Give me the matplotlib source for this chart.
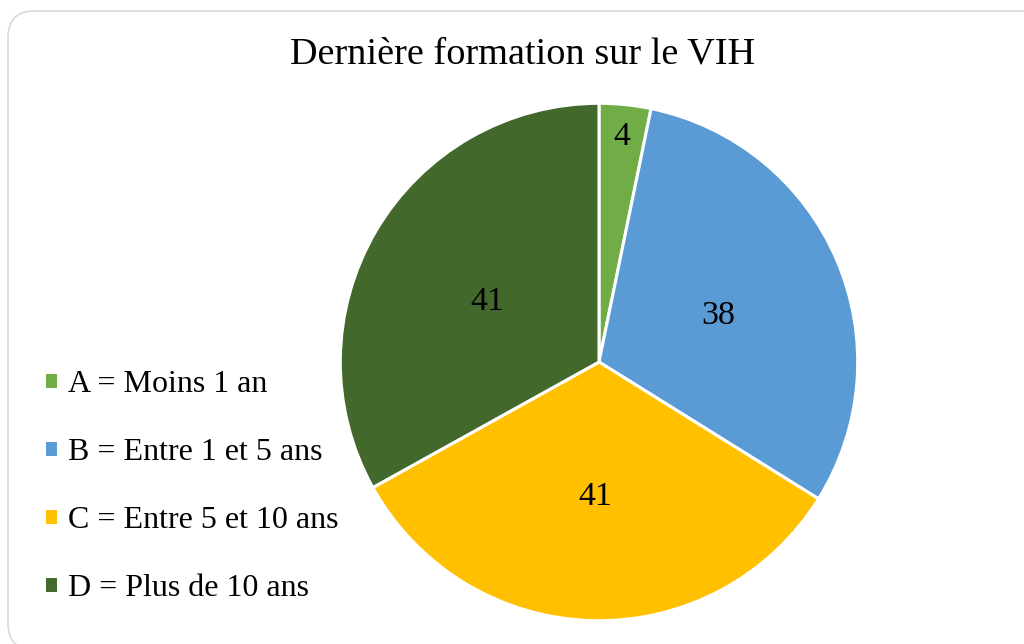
import numpy as np
import matplotlib.pyplot as plt
from matplotlib.patches import FancyBboxPatch
from matplotlib.transforms import offset_copy

categories = ['A = Moins 1 an', 'B = Entre 1 et 5 ans', 'C = Entre 5 et 10 ans', 'D = Plus de 10 ans']
values = [4, 38, 41, 41]
colors = ['#70AD47', '#5B9BD5', '#FFC000', '#43682B']

plt.rcParams['font.family'] = ['Liberation Serif', 'DejaVu Serif']

fig = plt.figure(figsize=(10.24, 6.44), dpi=100)

# rounded chart border (runs off the right edge)
border = FancyBboxPatch((8 / 1024, -6 / 644), 1.2, 1 - 5 / 644,
                        boxstyle='round,pad=0,rounding_size=0.026',
                        transform=fig.transFigure, facecolor='white',
                        edgecolor='#D9D9D9', linewidth=1.2, mutation_aspect=1024 / 644, zorder=-5)
fig.patches.append(border)

ax = fig.add_axes([339 / 1024, 22 / 644, 520 / 1024, 520 / 644])
wedges, texts, autotexts = ax.pie(values, colors=colors, startangle=90, counterclock=False,
                                  autopct=lambda p: '%d' % round(p * sum(values) / 100),
                                  pctdistance=0.5,
                                  wedgeprops=dict(edgecolor='white', linewidth=2.2),
                                  textprops=dict(fontsize=24.5, color='black'))
ax.set_xlim(-1.005, 1.005)
ax.set_ylim(-1.005, 1.005)
ax.set_aspect('equal')

# small slice label sits further out
ang = np.deg2rad((wedges[0].theta1 + wedges[0].theta2) / 2)
autotexts[0].set_position((0.88 * np.cos(ang), 0.88 * np.sin(ang)))
for i, t in enumerate(autotexts):
    dy = -1 if i == 0 else -5
    t.set_transform(offset_copy(ax.transData, fig=fig, x=0, y=dy, units='dots'))

fig.text(523 / 1024, 1 - 54 / 644, 'Dernière formation sur le VIH', ha='center', va='center', fontsize=27.5)

fig.legend(wedges, categories, loc='upper left', bbox_to_anchor=(28 / 1024, 1 - 354 / 644),
           frameon=False, fontsize=23, handlelength=0.45, handleheight=0.45, handletextpad=0.3,
           labelspacing=1.22, borderpad=0)

fig.savefig('out.png', dpi=100)
